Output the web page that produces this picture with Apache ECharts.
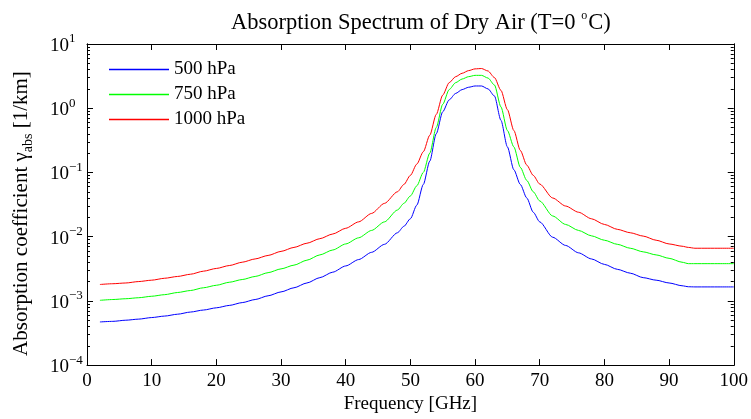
<!DOCTYPE html>
<html>
<head>
<meta charset="utf-8">
<script src="https://cdn.jsdelivr.net/npm/echarts@6/dist/echarts.min.js"></script>
<style>html,body{margin:0;padding:0;background:#fff}#c{width:751px;height:419px}</style>
</head>
<body>
<div id="c"></div>
<script>
const freq = [2,4,6,8,10,12,14,16,18,20,22,24,26,28,30,32,34,36,38,40,42,44,46,48,49,50,51,52,53,54,55,56,57,58,59,60,61,62,63,64,65,66,67,68,69,70,72,74,76,78,80,82,84,86,88,90,92,93,94,96,98,100];
const p500 = [4.7e-4,4.8e-4,5.0e-4,5.2e-4,5.5e-4,5.8e-4,6.2e-4,6.7e-4,7.2e-4,7.8e-4,8.5e-4,9.4e-4,1.05e-3,1.2e-3,1.38e-3,1.6e-3,1.9e-3,2.3e-3,2.8e-3,3.5e-3,4.4e-3,5.7e-3,7.6e-3,0.0115,0.0145,0.019,0.031,0.065,0.15,0.4,0.88,1.35,1.7,1.95,2.12,2.22,2.22,2.0,1.55,0.65,0.25,0.11,0.065,0.04,0.024,0.017,0.0098,0.0073,0.0056,0.0045,0.0037,0.0031,0.0027,0.0023,0.0021,0.0019,0.00172,0.00166,0.00165,0.00165,0.00165,0.00165];
const p750 = [1.02e-3,1.05e-3,1.08e-3,1.12e-3,1.18e-3,1.25e-3,1.35e-3,1.45e-3,1.6e-3,1.75e-3,1.95e-3,2.15e-3,2.4e-3,2.75e-3,3.15e-3,3.6e-3,4.3e-3,5.2e-3,6.2e-3,7.7e-3,9.6e-3,0.0125,0.017,0.026,0.033,0.043,0.062,0.1,0.2,0.5,1.15,1.95,2.5,2.85,3.1,3.25,3.25,2.95,2.3,1.05,0.45,0.25,0.12,0.075,0.05,0.036,0.021,0.0155,0.0125,0.0103,0.0088,0.0076,0.0066,0.0058,0.0052,0.0046,0.004,0.0038,0.0038,0.0038,0.0038,0.0038];
const p1000 = [1.8e-3,1.85e-3,1.9e-3,2.0e-3,2.1e-3,2.25e-3,2.4e-3,2.6e-3,2.9e-3,3.2e-3,3.55e-3,4.0e-3,4.5e-3,5.1e-3,5.9e-3,6.8e-3,7.9e-3,9.3e-3,0.011,0.0135,0.017,0.023,0.033,0.05,0.065,0.09,0.135,0.21,0.38,0.8,1.6,2.5,3.1,3.5,3.85,4.1,4.15,3.8,3.0,1.9,0.95,0.45,0.22,0.13,0.09,0.066,0.04,0.03,0.024,0.019,0.0155,0.013,0.0115,0.0102,0.0088,0.0077,0.0071,0.0068,0.0066,0.0066,0.0066,0.0066];
const seriesNames = ['500 hPa','750 hPa','1000 hPa'];
const seriesColors = ['#0000ff','#00ff00','#ff0000'];
const yMajor = [1e-4,1e-3,1e-2,1e-1,1,10];
const yMinorMult = [2,3,4,5,6,7,8,9];

const FONT = "'Liberation Serif','Times New Roman',serif";
const yMinor = [];
yMajor.slice(0,-1).forEach(m => yMinorMult.forEach(k => yMinor.push(+(m*k).toPrecision(3))));
function expOf(v){ return Math.round(Math.log10(v)); }

const values = [p500,p750,p1000];
const series = values.map((arr,i)=>({
  name: seriesNames[i], type:'line', xAxisIndex:0, yAxisIndex:0,
  color: seriesColors[i],
  data: freq.map((f,j)=>[f,arr[j]]),
  showSymbol:false, symbol:'none', smooth:0.25, smoothMonotone:'x',
  lineStyle:{width:1,color:seriesColors[i]}, itemStyle:{color:seriesColors[i]},
  animation:false
}));

const tickLine = {color:'#000',width:1};
const baseY = {type:'log', min:1e-4, max:10, logBase:10, splitLine:{show:false},
  axisLine:{show:true,onZero:false,lineStyle:{color:'#000',width:1}}};

const chart = echarts.init(document.getElementById('c'), null, {renderer:'canvas'});
chart.setOption({
  animation:false,
  backgroundColor:'#fff',
  color: seriesColors,
  title:{
    text:'{t|Absorption Spectrum of Dry Air (T=0 }{s|o}{t|C)}',
    left:226, top:5,
    textStyle:{fontWeight:'normal',rich:{
      t:{fontFamily:FONT,fontSize:22.5,fontWeight:'normal',color:'#000',verticalAlign:'bottom'},
      s:{fontFamily:FONT,fontSize:12,fontWeight:'normal',color:'#000',verticalAlign:'bottom',padding:[0,1,13,0]}
    }}
  },
  legend:{
    orient:'vertical', left:109, top:60, padding:0, itemGap:6,
    itemWidth:60, itemHeight:1.5, icon:'rect',
    data: seriesNames.map((n,i)=>({name:n, icon:'rect', itemStyle:{color:seriesColors[i],borderWidth:0}})),
    textStyle:{fontFamily:FONT,fontSize:19,color:'#000'}
  },
  grid:{left:87,right:15,top:44,bottom:51,containLabel:false},
  xAxis:[
    {type:'value',min:0,max:100,interval:10,position:'bottom',
     axisLine:{show:true,onZero:false,lineStyle:{color:'#000',width:1}},
     axisTick:{show:true,inside:true,length:6,lineStyle:tickLine},
     axisLabel:{show:true,fontFamily:FONT,fontSize:19,color:'#000',margin:6},
     splitLine:{show:false},
     name:'Frequency [GHz]',nameLocation:'middle',nameGap:27,
     nameTextStyle:{fontFamily:FONT,fontSize:19,color:'#000'}},
    {type:'value',min:0,max:100,interval:10,position:'top',
     axisLine:{show:true,onZero:false,lineStyle:{color:'#000',width:1}},
     axisTick:{show:true,inside:true,length:6,lineStyle:tickLine},
     axisLabel:{show:false},splitLine:{show:false}}
  ],
  yAxis:[
    Object.assign({},baseY,{position:'left',
      axisTick:{show:true,inside:true,length:6,lineStyle:tickLine,customValues:yMajor},
      axisLabel:{show:true,align:'left',margin:37,customValues:yMajor,
        formatter:v=>{const e=expOf(v);return '{b|10}{s|'+String(e).replace('-','−')+'}';},
        rich:{
          b:{fontFamily:FONT,fontSize:19,color:'#000',verticalAlign:'bottom'},
          s:{fontFamily:FONT,fontSize:13,color:'#000',verticalAlign:'bottom',padding:[0,0,10,0]}
        }},
      name:'{n|Absorption coefficient γ}{sub|abs}{n| [1/km]}',
      nameLocation:'middle',nameGap:52,nameRotate:90,
      nameTextStyle:{padding:[0,18,0,0],rich:{
        n:{fontFamily:FONT,fontSize:21,color:'#000',verticalAlign:'top'},
        sub:{fontFamily:FONT,fontSize:14,color:'#000',verticalAlign:'top',padding:[10,0,0,0]}
      }}}),
    Object.assign({},baseY,{position:'right',
      axisTick:{show:true,inside:true,length:6,lineStyle:tickLine,customValues:yMajor},
      axisLabel:{show:false}}),
    Object.assign({},baseY,{position:'left',
      axisTick:{show:true,inside:true,length:3,lineStyle:tickLine,customValues:yMinor},
      axisLabel:{show:false}}),
    Object.assign({},baseY,{position:'right',
      axisTick:{show:true,inside:true,length:3,lineStyle:tickLine,customValues:yMinor},
      axisLabel:{show:false}})
  ],
  series: series
});
</script>
</body>
</html>
